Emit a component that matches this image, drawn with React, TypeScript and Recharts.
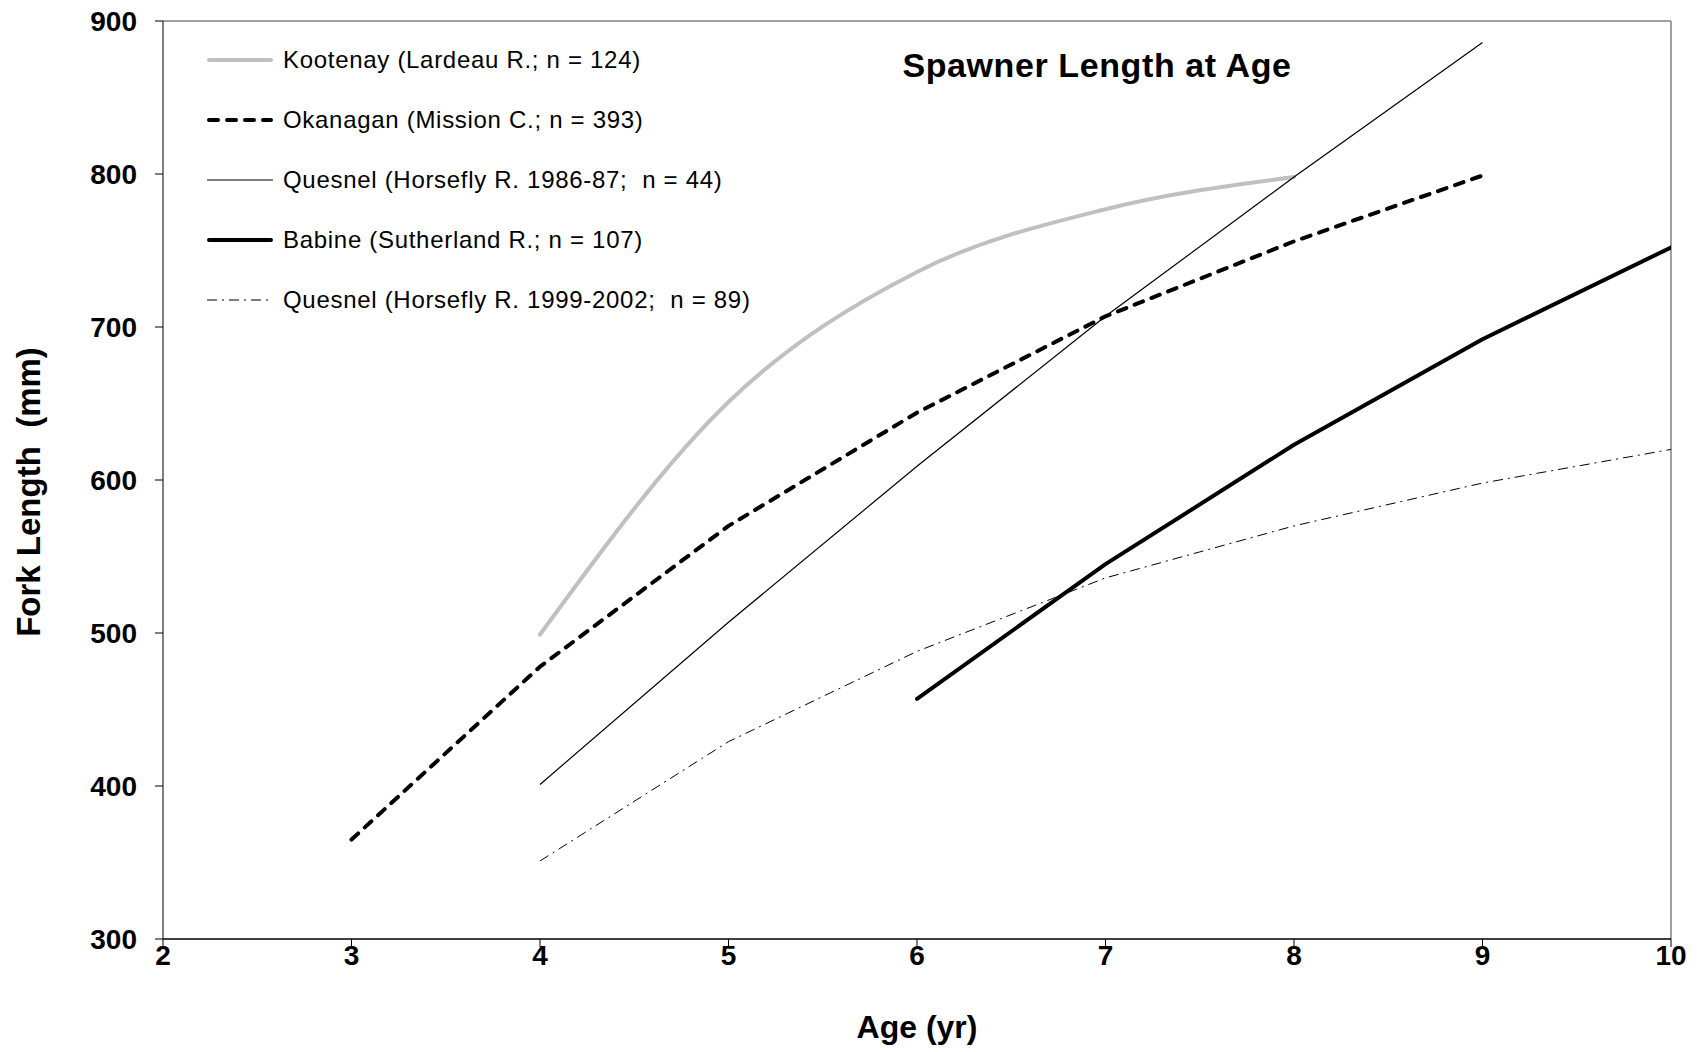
import React from 'react';
import { LineChart, Line, XAxis, YAxis, ReferenceLine, Legend } from 'recharts';

// Axis ticks
const AGE_TICKS = [2, 3, 4, 5, 6, 7, 8, 9, 10];
const LENGTH_TICKS = [300, 400, 500, 600, 700, 800, 900];

// Ages (yr) at which mean spawner fork length was measured
const AGES = [3, 4, 5, 6, 7, 8, 9, 10];

// Mean fork length (mm) by age for each stock; null = no fish of that age
const KOOTENAY = [null, 499, 651, 736, 777, 798, null, null];
const OKANAGAN = [365, 478, 570, 644, 707, 756, 799, null];
const QUESNEL_1986_87 = [null, 401, 507, 609, 707, 798, 886, null];
const BABINE = [null, null, null, 457, 545, 623, 692, 752];
const QUESNEL_1999_2002 = [null, 351, 429, 488, 536, 570, 598, 620];

// Legend labels
const SERIES_LABELS = [
  'Kootenay (Lardeau R.; n = 124)',
  'Okanagan (Mission C.; n = 393)',
  'Quesnel (Horsefly R. 1986-87;  n = 44)',
  'Babine (Sutherland R.; n = 107)',
  'Quesnel (Horsefly R. 1999-2002;  n = 89)',
];

const SERIES_KEYS = ['kootenay', 'okanagan', 'quesnel8687', 'babine', 'quesnel9902'];
const SERIES_VALUES = [KOOTENAY, OKANAGAN, QUESNEL_1986_87, BABINE, QUESNEL_1999_2002];

// Stroke styling per series (same order as the keys above)
const LINE_STYLES = [
  { stroke: '#c0c0c0', width: 4, dash: undefined, cap: 'round', curve: 'monotone' },
  { stroke: '#000000', width: 4, dash: '9 9', cap: 'round', curve: 'linear' },
  { stroke: '#000000', width: 1.2, dash: undefined, cap: 'butt', curve: 'linear' },
  { stroke: '#000000', width: 4, dash: undefined, cap: 'round', curve: 'linear' },
  { stroke: '#000000', width: 1, dash: '10 5 2 5', cap: 'butt', curve: 'linear' },
];

const FONT = '"Liberation Sans", Arial, Helvetica, sans-serif';

const rows = AGES.map((age, i) => {
  const row: Record<string, number | null> = { age };
  SERIES_KEYS.forEach((key, s) => {
    row[key] = SERIES_VALUES[s][i];
  });
  return row;
});

const renderAgeLabel = (props: any) => {
  const vb = props.viewBox || {};
  return (
    <text
      x={vb.x + vb.width / 2}
      y={vb.y + 99}
      textAnchor="middle"
      fontFamily={FONT}
      fontSize={32}
      fontWeight="bold"
      fill="#000"
    >
      Age (yr)
    </text>
  );
};

const renderLengthLabel = (props: any) => {
  const vb = props.viewBox || {};
  const cx = 32;
  const cy = vb.y + vb.height / 2 + 12;
  return (
    <text
      x={cx}
      y={cy}
      transform={`rotate(-90, ${cx}, ${cy})`}
      textAnchor="middle"
      fontFamily={FONT}
      fontSize={33}
      fontWeight="bold"
      fill="#000"
      style={{ whiteSpace: 'pre' }}
    >
      {'Fork Length  (mm)'}
    </text>
  );
};

const renderLegend = () => (
  <div style={{ fontFamily: FONT, fontSize: 24, letterSpacing: 0.7, color: '#000' }}>
    {SERIES_LABELS.map((label, i) => {
      const st = LINE_STYLES[i];
      return (
        <div key={label} style={{ display: 'flex', alignItems: 'center', height: 60 }}>
          <svg width={66} height={10} style={{ display: 'block' }}>
            <line
              x1={st.cap === 'round' ? 2 : 0}
              y1={5}
              x2={st.cap === 'round' ? 64 : 66}
              y2={5}
              stroke={st.stroke}
              strokeWidth={st.width}
              strokeDasharray={st.dash}
              strokeLinecap={st.cap as any}
            />
          </svg>
          <span style={{ marginLeft: 10, whiteSpace: 'pre', lineHeight: '60px' }}>{label}</span>
        </div>
      );
    })}
  </div>
);

const tickStyle = { fill: '#000', fontSize: 28, fontWeight: 'bold', fontFamily: FONT };

export default function App() {
  return (
    <div style={{ position: 'relative', width: 1692, height: 1044, background: '#fff' }}>
      <LineChart
        width={1692}
        height={1044}
        data={rows}
        margin={{ top: 13, right: 29, bottom: 43, left: 55 }}
      >
        <XAxis
          dataKey="age"
          type="number"
          domain={[2, 10]}
          ticks={AGE_TICKS}
          interval={0}
          allowDataOverflow
          height={70}
          tickSize={8}
          tickMargin={-2}
          tick={tickStyle}
          axisLine={{ stroke: '#000', strokeWidth: 1.5 }}
          tickLine={{ stroke: '#000' }}
          label={{ content: renderAgeLabel }}
        />
        <YAxis
          type="number"
          domain={[300, 900]}
          ticks={LENGTH_TICKS}
          interval={0}
          allowDataOverflow
          width={100}
          tickSize={8}
          tickMargin={18}
          tick={tickStyle}
          axisLine={{ stroke: '#000' }}
          tickLine={{ stroke: '#000' }}
          label={{ content: renderLengthLabel }}
        />
        <ReferenceLine y={900} stroke="#808080" strokeWidth={1.5} ifOverflow="visible" />
        <ReferenceLine x={10} stroke="#808080" strokeWidth={1.5} ifOverflow="visible" />
        {SERIES_KEYS.map((key, i) => {
          const st = LINE_STYLES[i];
          return (
            <Line
              key={key}
              dataKey={key}
              name={SERIES_LABELS[i]}
              type={st.curve as any}
              stroke={st.stroke}
              strokeWidth={st.width}
              strokeDasharray={st.dash}
              strokeLinecap={st.cap as any}
              strokeLinejoin="round"
              dot={false}
              activeDot={false}
              connectNulls={false}
              isAnimationActive={false}
            />
          );
        })}
        <Legend
          layout="vertical"
          align="center"
          verticalAlign="middle"
          content={renderLegend}
          wrapperStyle={{ left: 199, top: 22, width: 560, height: 300 }}
        />
      </LineChart>
      <div
        style={{
          position: 'absolute',
          left: 689,
          top: 40,
          width: 800,
          textAlign: 'center',
          fontFamily: FONT,
          fontSize: 34,
          letterSpacing: 0.6,
          fontWeight: 'bold',
          lineHeight: '34px',
          color: '#000',
          pointerEvents: 'none',
        }}
      >
        Spawner Length at Age
      </div>
    </div>
  );
}
